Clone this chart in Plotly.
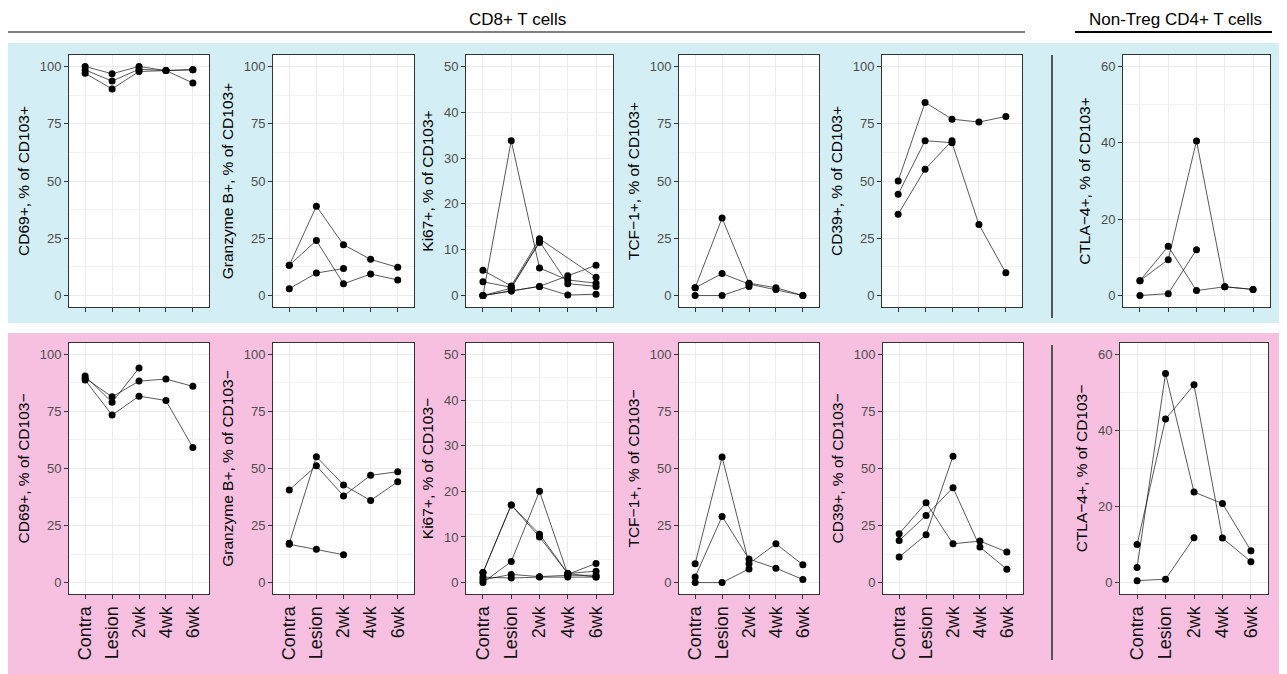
import plotly.graph_objects as go

n = None
categories = ["Contra", "Lesion", "2wk", "4wk", "6wk"]
xpos = [1, 2, 3, 4, 5]

# ---- CD103+ (top row) ----
cd69_pos = [
    [100.0, 96.8, 100.0, 98.2, 98.6],
    [98.5, 93.6, 98.8, 98.2, 98.6],
    [97.0, 90.2, 97.8, 98.2, 92.8],
]
gzmb_pos = [
    [13.2, 39.0, 22.2, 15.8, 12.3],
    [13.2, 24.0, 5.1, 9.4, 6.8],
    [3.0, 9.8, 11.8, n, n],
]
ki67_pos = [
    [0.0, 33.8, 6.0, 3.4, 2.7],
    [5.5, 2.1, 12.4, n, 4.0],
    [3.0, 1.8, 11.8, 2.6, 2.0],
    [0.0, 1.0, 2.0, 4.3, 6.6],
    [0.0, 1.0, 2.0, 0.1, 0.3],
    [0.0, 1.6, 11.6, n, n],
]
tcf1_pos = [
    [3.4, 33.8, 5.4, 3.4, 0.0],
    [3.4, 9.6, 5.0, 2.6, 0.0],
    [0.0, 0.0, 4.0, n, n],
]
cd39_pos = [
    [50.0, 84.3, 77.0, 75.7, 78.2],
    [44.2, 67.6, 66.7, 31.0, 9.9],
    [35.5, 55.1, 67.6, n, n],
]
ctla4_pos = [
    [3.9, 12.9, 1.3, 2.3, 1.6],
    [3.9, 9.4, 40.5, 2.3, 1.6],
    [0.0, 0.5, 12.0, n, n],
]

# ---- CD103- (bottom row) ----
cd69_neg = [
    [90.5, 79.0, 94.0, n, n],
    [89.6, 81.4, 88.3, 89.2, 86.0],
    [88.8, 73.4, 81.7, 79.8, 59.2],
]
gzmb_neg = [
    [40.6, 51.2, 38.0, 47.0, 48.6],
    [17.2, 55.2, 42.8, 36.0, 44.2],
    [16.8, 14.6, 12.2, n, n],
]
ki67_neg = [
    [2.2, 17.0, 10.6, 2.0, 2.5],
    [0.0, 4.6, 20.0, 1.8, 4.2],
    [0.6, 1.8, 1.3, 1.6, 1.6],
    [1.2, 1.0, 1.2, 1.2, 1.2],
    [2.2, 17.0, 10.0, 2.0, 1.2],
]
tcf1_neg = [
    [8.3, 55.0, 8.3, 17.0, 7.8],
    [2.5, 29.0, 10.3, 6.3, 1.4],
    [0.0, 0.0, 6.0, n, n],
]
cd39_neg = [
    [21.4, 35.0, 17.0, 18.2, 13.4],
    [18.4, 29.4, 41.6, 15.6, 5.8],
    [11.2, 21.0, 55.4, n, n],
]
ctla4_neg = [
    [10.0, 43.0, 52.0, 11.7, 5.5],
    [4.0, 55.0, 23.8, 20.8, 8.4],
    [0.5, 0.9, 11.8, n, n],
]

M = "\u2212"
panels = [
    ("CD69+, % of CD103+", cd69_pos, "pct", 0, 0),
    ("Granzyme B+, % of CD103+", gzmb_pos, "pct", 0, 1),
    ("Ki67+, % of CD103+", ki67_pos, "ki", 0, 2),
    (f"TCF{M}1+, % of CD103+", tcf1_pos, "pct", 0, 3),
    ("CD39+, % of CD103+", cd39_pos, "pct", 0, 4),
    (f"CTLA{M}4+, % of CD103+", ctla4_pos, "ctla", 0, 5),
    (f"CD69+, % of CD103{M}", cd69_neg, "pct", 1, 0),
    (f"Granzyme B+, % of CD103{M}", gzmb_neg, "pct", 1, 1),
    (f"Ki67+, % of CD103{M}", ki67_neg, "ki", 1, 2),
    (f"TCF{M}1+, % of CD103{M}", tcf1_neg, "pct", 1, 3),
    (f"CD39+, % of CD103{M}", cd39_neg, "pct", 1, 4),
    (f"CTLA{M}4+, % of CD103{M}", ctla4_neg, "ctla", 1, 5),
]

yspecs = {
    "pct": dict(range=[-5, 105], dtick=25),
    "ki": dict(range=[-2.5, 52.5], dtick=10),
    "ctla": dict(range=[-3, 63], dtick=20),
}

# page body has an 8px margin: figure occupies viewport px 8..1287 x 8..674
OFF = 8
W, H = 1287 - OFF, 674 - OFF
def fx(p):
    return (p - OFF) / W
def fy(p):
    return 1 - (p - OFF) / H

col_x = [
    [(69, 209), (273, 414), (466, 613), (679, 819), (882, 1022), (1123, 1270)],
    [(69, 209), (273, 414), (466, 613), (679, 819), (883, 1023), (1120, 1268)],
]
row_y = [(55, 307), (343, 594)]

FONT = "Liberation Sans, Arial, sans-serif"
fig = go.Figure()
layout = {}
panel_rects = []

for idx, (label, series, spec, r, c) in enumerate(panels):
    i = idx + 1
    xa = "x" if i == 1 else f"x{i}"
    ya = "y" if i == 1 else f"y{i}"
    for s in series:
        fig.add_trace(go.Scatter(x=xpos, y=s, mode="lines", connectgaps=True,
                                 line=dict(color="#111111", width=0.7),
                                 xaxis=xa, yaxis=ya, showlegend=False, hoverinfo="skip"))
    for s in series:
        fig.add_trace(go.Scatter(x=xpos, y=s, mode="markers",
                                 marker=dict(color="black", size=7),
                                 xaxis=xa, yaxis=ya, showlegend=False, hoverinfo="skip"))
    x0, x1 = col_x[r][c]
    y0, y1 = row_y[r]
    ys = yspecs[spec]
    panel_rects.append(dict(type="rect", xref="paper", yref="paper",
                            x0=fx(x0), x1=fx(x1), y0=fy(y1), y1=fy(y0),
                            fillcolor="white", line=dict(width=0), layer="below"))
    layout["xaxis" if i == 1 else f"xaxis{i}"] = dict(
        domain=[fx(x0), fx(x1)], anchor=ya, range=[0.4, 5.6],
        tickmode="array", tickvals=xpos, ticktext=categories,
        showticklabels=(r == 1), tickangle=-90,
        tickfont=dict(size=18, color="#111111", family=FONT),
        ticks="outside", ticklen=4, tickwidth=1, tickcolor="#333333",
        showgrid=True, gridcolor="#EBEBEB", gridwidth=1,
        showline=True, mirror=True, linecolor="#333333", linewidth=1,
        zeroline=False, fixedrange=True,
    )
    layout["yaxis" if i == 1 else f"yaxis{i}"] = dict(
        domain=[fy(y1), fy(y0)], anchor=xa, range=ys["range"],
        tickmode="linear", tick0=0, dtick=ys["dtick"],
        tickfont=dict(size=13, color="#4D4D4D", family=FONT),
        ticks="outside", ticklen=4, tickwidth=1, tickcolor="#333333",
        showgrid=True, gridcolor="#EBEBEB", gridwidth=1,
        minor=dict(tick0=0, dtick=ys["dtick"] / 2, showgrid=True,
                   gridcolor="#F2F2F2", gridwidth=0.6),
        showline=True, mirror=True, linecolor="#333333", linewidth=1,
        zeroline=False, fixedrange=True,
        title=dict(text=label, font=dict(size=15.5, color="black", family=FONT), standoff=6),
    )

shapes = [
    dict(type="rect", xref="paper", yref="paper", x0=fx(8), x1=fx(1287), y0=fy(323), y1=fy(43),
         fillcolor="#D4EEF6", line=dict(width=0), layer="below"),
    dict(type="rect", xref="paper", yref="paper", x0=fx(8), x1=fx(1287), y0=fy(674), y1=fy(333),
         fillcolor="#F7C0E0", line=dict(width=0), layer="below"),
] + panel_rects + [
    dict(type="line", xref="paper", yref="paper", x0=fx(8), x1=fx(1025), y0=fy(32), y1=fy(32),
         line=dict(color="black", width=1)),
    dict(type="line", xref="paper", yref="paper", x0=fx(1075), x1=fx(1272), y0=fy(32), y1=fy(32),
         line=dict(color="black", width=2)),
    dict(type="line", xref="paper", yref="paper", x0=fx(1052), x1=fx(1052), y0=fy(55), y1=fy(318),
         line=dict(color="#555555", width=2)),
    dict(type="line", xref="paper", yref="paper", x0=fx(1052), x1=fx(1052), y0=fy(345), y1=fy(660),
         line=dict(color="#555555", width=2)),
]

annotations = [
    dict(text="CD8+ T cells", x=fx(517), y=fy(19), xref="paper", yref="paper",
         xanchor="center", yanchor="middle", showarrow=False,
         font=dict(size=17, color="black", family=FONT)),
    dict(text="Non-Treg CD4+ T cells", x=fx(1175), y=fy(19), xref="paper", yref="paper",
         xanchor="center", yanchor="middle", showarrow=False,
         font=dict(size=17, color="black", family=FONT)),
]

fig.update_layout(
    width=W, height=H, margin=dict(l=0, r=0, t=0, b=0),
    paper_bgcolor="white", plot_bgcolor="white",
    shapes=shapes, annotations=annotations, hovermode=False,
    font=dict(family=FONT),
    **layout,
)

fig.write_html("out.html", config={"displayModeBar": False})
